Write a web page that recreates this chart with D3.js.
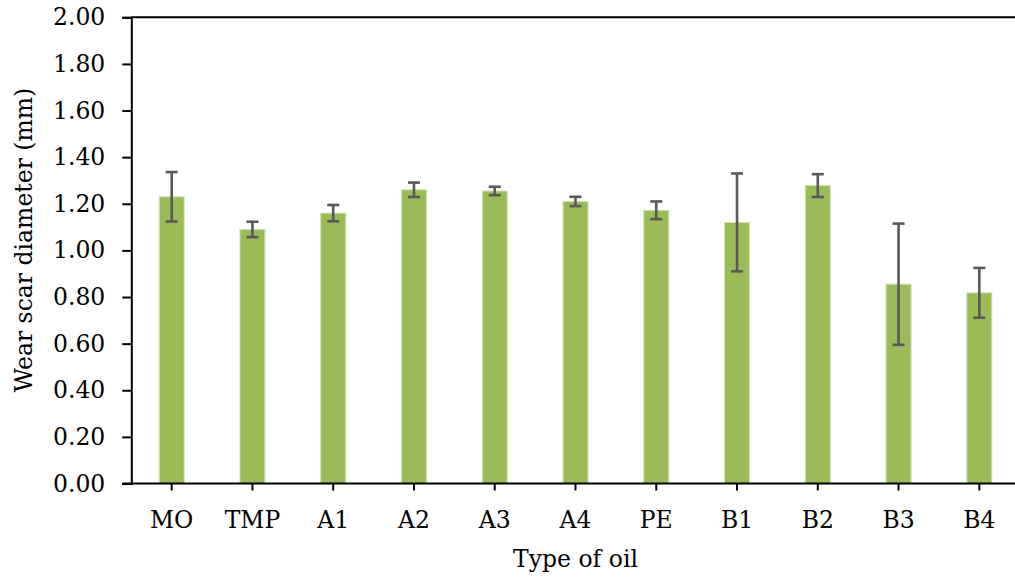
<!DOCTYPE html>
<html><head><meta charset="utf-8">
<script src="https://cdn.jsdelivr.net/npm/d3@7"></script>
<style>body{margin:0;background:#fff}svg{display:block}text{font-family:"DejaVu Serif",serif}</style>
</head><body>
<svg id="c" width="1015" height="577"></svg>
<script>
const categories = ["MO","TMP","A1","A2","A3","A4","PE","B1","B2","B3","B4"];
const values = [1.23,1.09,1.16,1.26,1.255,1.21,1.172,1.12,1.278,0.855,0.818];
const errors = [0.106,0.033,0.035,0.031,0.018,0.02,0.038,0.21,0.049,0.26,0.107];
const yTicks = [0,0.2,0.4,0.6,0.8,1.0,1.2,1.4,1.6,1.8,2.0];

const svg = d3.select("#c");
const L = 131.3, R = 1019.7, T = 17.3, B = 483.5;
const x = d3.scaleBand().domain(categories).range([L,R]).paddingInner(0.69).paddingOuter(0.345);
const y = d3.scaleLinear().domain([0,2]).range([B,T]);

// bars
svg.append("g").selectAll("rect").data(categories).join("rect")
  .attr("x", d=>x(d)).attr("width", x.bandwidth())
  .attr("y", (d,i)=>y(values[i])).attr("height", (d,i)=>B-y(values[i]))
  .attr("fill","#9bbb59").attr("stroke","#d3e2b6").attr("stroke-width",1);

// error bars
const eg = svg.append("g").attr("stroke","#595959").attr("stroke-width",2.6);
categories.forEach((c,i)=>{
  const cx = x(c)+x.bandwidth()/2;
  const y1 = y(values[i]+errors[i]), y2 = y(values[i]-errors[i]);
  eg.append("line").attr("x1",cx).attr("x2",cx).attr("y1",y1).attr("y2",y2);
  eg.append("line").attr("x1",cx-6).attr("x2",cx+6).attr("y1",y1).attr("y2",y1);
  eg.append("line").attr("x1",cx-6).attr("x2",cx+6).attr("y1",y2).attr("y2",y2);
});

// top line at 2.00
svg.append("line").attr("x1",L).attr("x2",1015).attr("y1",y(2)).attr("y2",y(2))
  .attr("stroke","#000").attr("stroke-width",2);

// y axis
const ya = svg.append("g").attr("transform",`translate(${L},0)`)
  .call(d3.axisLeft(y).tickValues(yTicks).tickFormat(d3.format(".2f")).tickSize(9).tickPadding(17));
ya.select(".domain").attr("stroke","#000").attr("stroke-width",2);
ya.selectAll(".tick line").attr("stroke","#000").attr("stroke-width",2);
ya.selectAll(".tick text").attr("font-size",23.5).attr("fill","#000").attr("font-family","DejaVu Serif");

// x axis
const xa = svg.append("g").attr("transform",`translate(0,${B})`)
  .call(d3.axisBottom(x).tickSize(7).tickPadding(21).tickSizeOuter(0));
xa.select(".domain").attr("stroke","#000").attr("stroke-width",2).attr("d",`M${L-9},0H1015`);
xa.selectAll(".tick line").attr("stroke","#000").attr("stroke-width",2);
xa.selectAll(".tick text").attr("font-size",23.5).attr("fill","#000").attr("font-family","DejaVu Serif");

// titles
svg.append("text").attr("x",(L+R)/2).attr("y",567).attr("text-anchor","middle")
  .attr("font-size",23.5).text("Type of oil");
svg.append("text").attr("transform",`translate(32,240) rotate(-90)`).attr("text-anchor","middle")
  .attr("font-size",23.5).text("Wear scar diameter (mm)");
</script>
</body></html>
